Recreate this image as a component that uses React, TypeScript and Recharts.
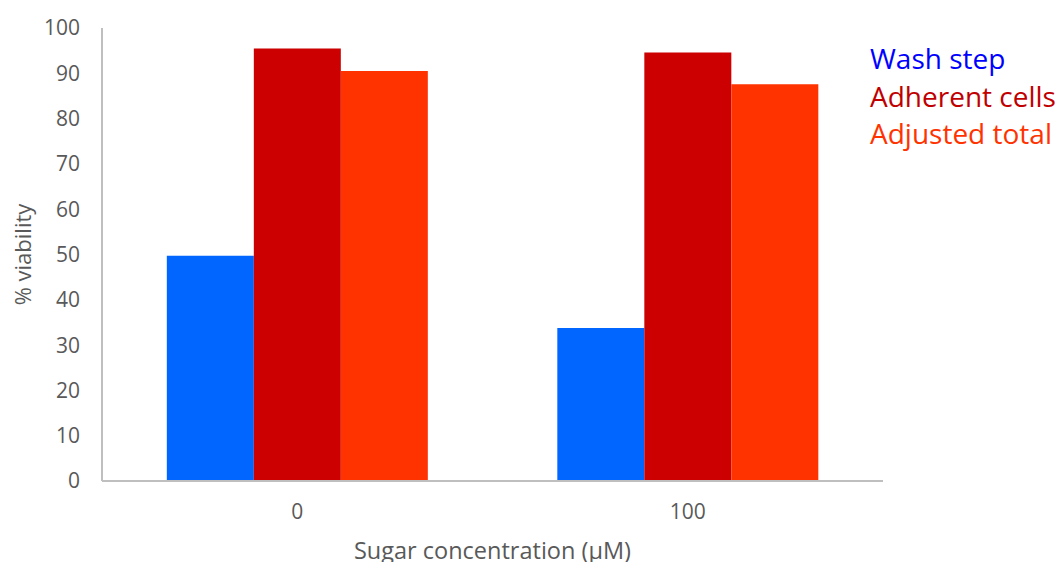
import { Bar, BarChart, Label, XAxis, YAxis } from "recharts";

const categories = ["0", "100"];
const washStep = [49.7, 33.8];
const adherentCells = [95.5, 94.6];
const adjustedTotal = [90.5, 87.6];
const yTicks = [0, 10, 20, 30, 40, 50, 60, 70, 80, 90, 100];

const seriesNames = ["Wash step", "Adherent cells", "Adjusted total"];
const barColors = ["#0066FF", "#CC0000", "#FF3300"];
const legendColors = ["#0000FF", "#C00000", "#FF3300"];

const data = categories.map((name, i) => ({
  name,
  wash: washStep[i],
  adherent: adherentCells[i],
  adjusted: adjustedTotal[i],
}));
const keys = ["wash", "adherent", "adjusted"];

const FONT = "'Open Sans', sans-serif";
const TICK = { fontSize: 21, fill: "#595959", fontFamily: FONT };

function YTitle(props: any) {
  const { y, height } = props.viewBox;
  const cy = y + height / 2;
  return (
    <text
      x={22}
      y={cy}
      transform={`rotate(-90 22 ${cy})`}
      textAnchor="middle"
      dominantBaseline="central"
      fontSize={22}
      fontFamily={FONT}
      fill="#595959"
    >
      % viability
    </text>
  );
}

export default function App() {
  return (
    <div style={{ position: "absolute", left: 0, top: 0, width: 1058, height: 562 }}>
      <BarChart
        width={1058}
        height={562}
        data={data}
        margin={{ top: 28, right: 175, left: 0, bottom: 0 }}
        barGap={0}
        barCategoryGap="16.6%"
      >
        <XAxis
          dataKey="name"
          height={81}
          tick={TICK}
          tickLine={false}
          tickSize={0}
          tickMargin={23}
          axisLine={{ stroke: "#BFBFBF", strokeWidth: 2 }}
        >
          <Label
            value="Sugar concentration (µM)"
            position="insideBottom"
            offset={3}
            style={{ fontSize: 23.5, fill: "#595959", fontFamily: FONT }}
          />
        </XAxis>
        <YAxis
          width={102}
          domain={[0, 100]}
          ticks={yTicks}
          interval={0}
          tick={TICK}
          tickLine={false}
          tickSize={0}
          tickMargin={22}
          axisLine={{ stroke: "#BFBFBF", strokeWidth: 2 }}
        >
          <Label content={YTitle} />
        </YAxis>
        {keys.map((k, i) => (
          <Bar
            key={k}
            dataKey={k}
            name={seriesNames[i]}
            fill={barColors[i]}
            isAnimationActive={false}
          />
        ))}
      </BarChart>
      <div
        style={{
          position: "absolute",
          left: 870,
          top: 40,
          fontFamily: FONT,
          fontSize: 28,
          lineHeight: "37.5px",
          whiteSpace: "nowrap",
        }}
      >
        {seriesNames.map((n, i) => (
          <div key={n} style={{ color: legendColors[i] }}>
            {n}
          </div>
        ))}
      </div>
    </div>
  );
}
